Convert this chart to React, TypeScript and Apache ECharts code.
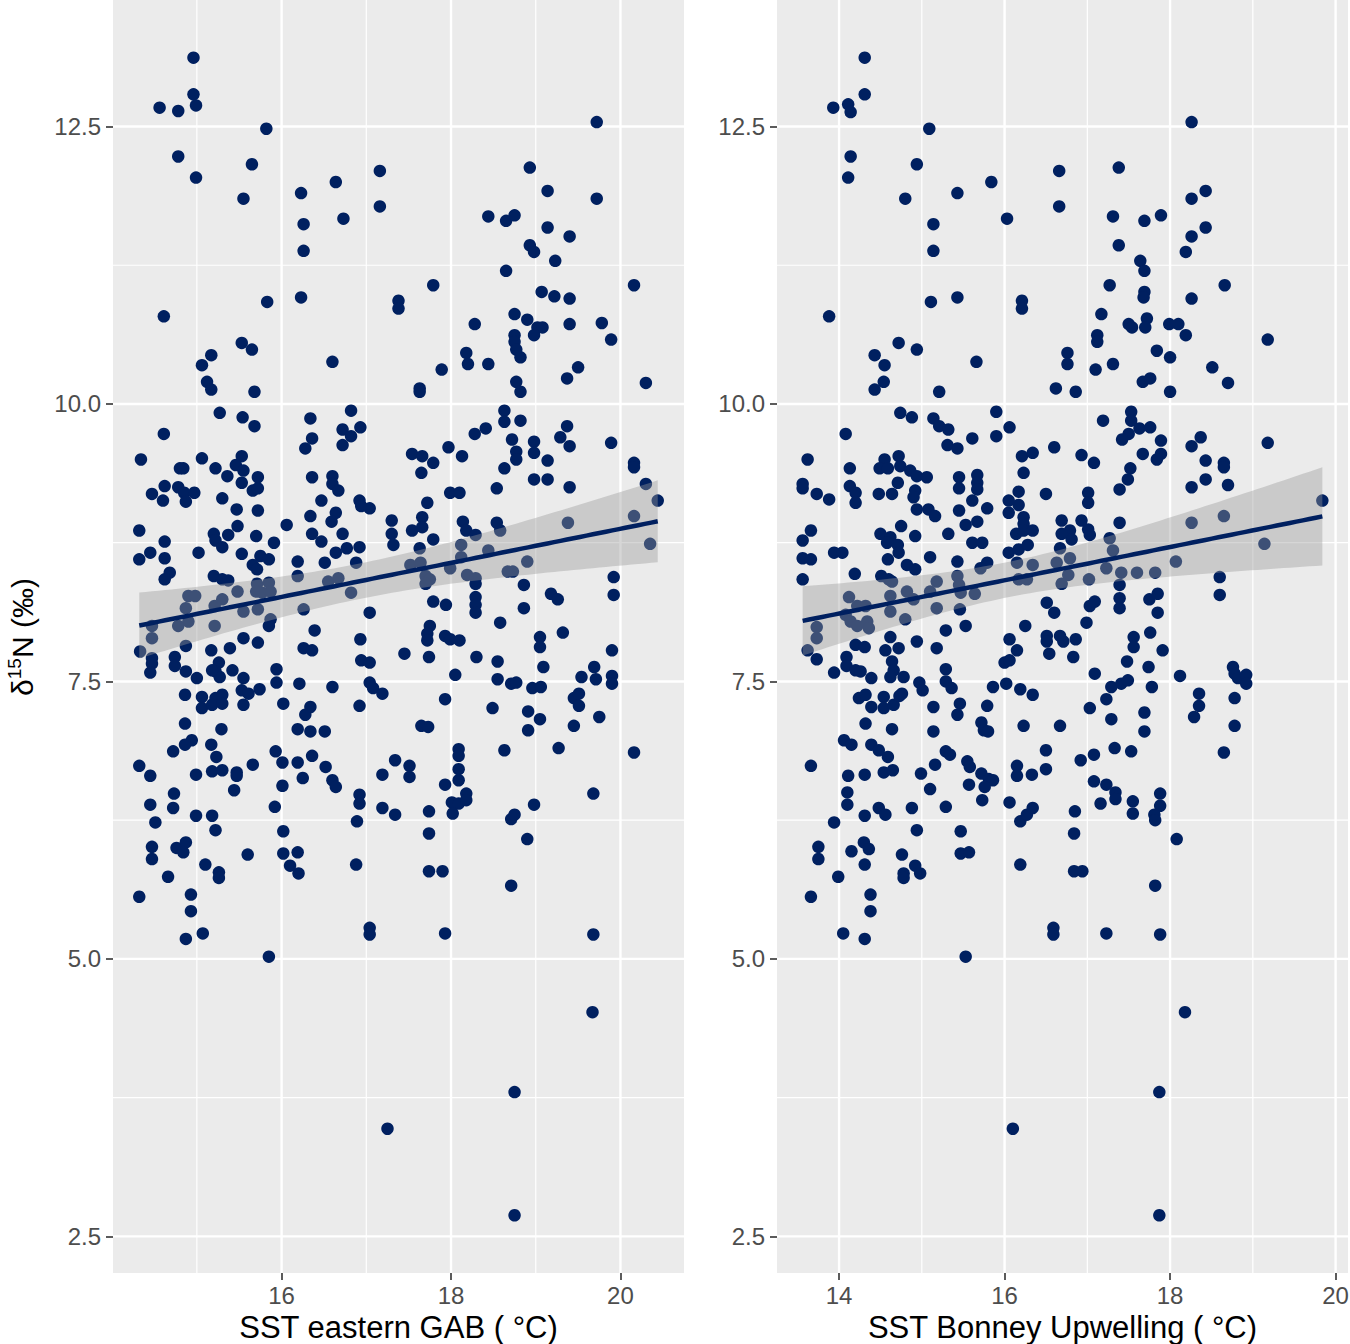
import React, { useEffect, useRef } from "react";
import * as echarts from "echarts";

// [SST eastern GAB (°C), δ15N (‰)]
const gabPoints: [number, number][] = [
  [14.96,13.12],[14.96,12.79],[14.99,12.69],[14.56,12.67],[14.78,12.64],[15.82,12.48],[14.78,12.23],[15.65,12.16],[14.99,12.04],[15.55,11.85],[16.23,11.90],[16.64,12.0],[17.16,12.10],[16.26,11.62],[16.73,11.67],[17.16,11.78],[16.26,11.38],[14.61,10.79],[15.83,10.92],[16.23,10.96],[17.38,10.93],[17.38,10.86],[15.53,10.55],[15.65,10.49],[15.17,10.44],[15.06,10.35],[15.12,10.20],[15.17,10.13],[15.68,10.11],[16.60,10.38],[15.27,9.92],[15.54,9.88],[15.68,9.80],[14.61,9.73],[16.34,9.87],[16.82,9.94],[16.72,9.77],[16.93,9.79],[16.82,9.71],[16.36,9.69],[16.28,9.60],[16.72,9.63],
  [19.72,12.54],[18.93,12.13],[19.14,11.92],[19.72,11.85],[18.44,11.69],[18.65,11.65],[18.75,11.70],[19.14,11.59],[19.40,11.51],[18.93,11.43],[18.98,11.37],[19.23,11.29],[18.65,11.20],[17.79,11.07],[20.16,11.07],[19.07,11.01],[19.22,10.97],[19.40,10.95],[18.75,10.81],[18.90,10.76],[18.28,10.72],[19.02,10.69],[19.08,10.69],[18.98,10.62],[19.40,10.72],[19.78,10.73],[19.89,10.58],[18.75,10.62],[18.75,10.56],[18.77,10.49],[18.82,10.42],[18.18,10.46],[18.20,10.36],[18.44,10.36],[17.89,10.31],[19.50,10.33],[19.37,10.23],[20.30,10.19],[17.63,10.14],[17.63,10.11],[18.77,10.20],[18.82,10.11],[18.63,9.94],[18.63,9.84],[18.82,9.85],[18.41,9.78],[18.28,9.73],[19.37,9.80],[19.29,9.70],[18.72,9.68],[18.98,9.66],[19.40,9.62],[19.89,9.65],[17.97,9.61],[18.13,9.53],
  [17.54,9.55],[17.66,9.53],[17.79,9.47],[18.77,9.57],[18.77,9.50],[18.98,9.56],[19.14,9.49],[20.16,9.47],[20.16,9.43],[18.63,9.42],[17.65,9.38],[19.40,9.25],[18.98,9.32],[19.14,9.32],[18.54,9.24],[17.99,9.20],[18.10,9.20],[17.72,9.11],[20.30,9.28],[20.44,9.13],[17.66,8.98],[17.54,8.86],[17.66,8.89],[17.79,8.78],[18.14,8.94],[18.18,8.86],[18.29,8.82],[18.54,8.93],[18.58,8.86],[19.38,8.93],[20.16,8.99],[20.35,8.74],[17.63,8.70],[18.12,8.73],[18.44,8.68],[17.52,8.55],[17.64,8.57],[18.12,8.62],[17.99,8.52],[18.90,8.58],[18.67,8.49],[18.73,8.49],[17.70,8.45],[17.75,8.42],[17.70,8.38],[18.19,8.46],[18.29,8.43],[18.29,8.38],[18.86,8.37],[19.92,8.44],[19.92,8.28],[19.18,8.29],[19.26,8.24],[17.79,8.22],[17.94,8.19],[18.29,8.26],[18.29,8.19],[18.29,8.12],[18.86,8.16],[18.58,8.03],[17.75,8.0],[17.72,7.93],[17.72,7.87],[17.93,7.91],[17.99,7.88],[18.10,7.87],[19.32,7.94],[19.05,7.90],[19.05,7.81],[17.74,7.72],[18.30,7.72],[19.90,7.78],[18.55,7.68],[19.09,7.63],[18.05,7.56],[18.55,7.52],[18.71,7.48],[18.77,7.49],[18.96,7.44],[19.06,7.45],[19.54,7.54],[19.69,7.63],[19.71,7.52],[19.90,7.55],[19.90,7.48],[19.45,7.35],[19.51,7.39],[19.51,7.28],[17.93,7.34],[18.49,7.26],[18.91,7.23],[19.05,7.16],[19.75,7.18],[17.65,7.10],[17.73,7.09],[18.91,7.06],[19.45,7.10],[18.09,6.89],[18.09,6.83],[18.63,6.88],[19.27,6.90],[20.16,6.86],[17.51,6.74],[17.51,6.64],[18.09,6.71],[18.09,6.61],[17.93,6.57],[18.01,6.41],[18.09,6.40],[18.18,6.49],[18.18,6.43],[18.02,6.31],[17.74,6.33],[17.74,6.13],[18.71,6.26],[18.75,6.30],[18.98,6.39],[18.90,6.08],[19.68,6.49],
  [14.34,9.50],[15.06,9.51],[15.53,9.53],[14.80,9.42],[14.84,9.42],[15.22,9.42],[15.46,9.45],[15.55,9.40],[15.36,9.35],[15.72,9.34],[15.53,9.29],[15.66,9.22],[15.72,9.24],[14.47,9.19],[14.62,9.26],[14.60,9.13],[14.78,9.25],[14.85,9.20],[14.87,9.12],[14.97,9.20],[15.30,9.15],[15.47,9.05],[15.72,9.04],[14.32,8.86],[14.62,8.76],[15.20,8.83],[15.37,8.82],[15.22,8.77],[15.30,8.71],[15.48,8.90],[15.70,8.81],[15.91,8.75],[16.06,8.91],[14.45,8.66],[14.32,8.60],[14.62,8.61],[15.02,8.66],[15.53,8.65],[15.75,8.63],[15.85,8.60],[15.66,8.55],[15.71,8.51],[14.68,8.48],[14.62,8.42],[15.20,8.45],[15.30,8.42],[15.37,8.41],[15.48,8.31],[15.71,8.38],[15.85,8.39],[15.70,8.31],[15.77,8.30],[15.87,8.31],[14.90,8.27],[14.98,8.27],[14.87,8.16],[15.21,8.18],[15.30,8.24],[15.55,8.13],[15.72,8.15],[14.90,8.04],[14.78,8.0],[14.47,8.0],[14.47,7.89],[15.21,8.0],[15.87,8.06],[15.85,8.0],[16.19,8.58],[16.19,8.45],[16.26,8.15],[16.36,9.34],[16.60,9.35],[16.60,9.28],[16.67,9.22],[16.47,9.13],[16.92,9.13],[16.94,9.08],[17.04,9.06],[16.34,8.99],[16.64,9.02],[16.59,8.94],[16.36,8.83],[16.47,8.76],[16.72,8.83],[16.64,8.66],[16.77,8.70],[16.92,8.71],[16.51,8.57],[16.88,8.57],[16.55,8.40],[16.67,8.43],[16.82,8.30],[17.30,8.95],[17.30,8.83],[17.32,8.73],[17.04,8.12],[16.39,7.96],[16.26,7.80],[16.36,7.78],[16.93,7.88],[16.94,7.69],[17.04,7.67],[17.45,7.75],
  [14.33,7.77],[14.47,7.71],[14.47,7.66],[14.74,7.72],[14.74,7.64],[14.45,7.58],[14.87,7.82],[14.87,7.59],[15.0,7.53],[15.17,7.78],[15.39,7.80],[15.55,7.89],[15.72,7.85],[15.26,7.67],[15.22,7.59],[15.27,7.54],[15.18,7.60],[15.42,7.60],[15.55,7.53],[15.94,7.61],[15.94,7.49],[16.21,7.48],[16.60,7.45],[17.04,7.49],[17.08,7.44],[17.19,7.39],[15.74,7.43],[15.53,7.42],[15.61,7.39],[14.86,7.38],[15.06,7.36],[15.22,7.35],[15.30,7.38],[15.06,7.26],[15.18,7.29],[15.30,7.30],[15.55,7.29],[16.02,7.30],[16.34,7.27],[16.28,7.20],[16.92,7.28],[14.86,7.12],[15.29,7.07],[16.19,7.07],[16.34,7.05],[16.51,7.05],[14.94,6.97],[14.86,6.93],[14.72,6.87],[15.17,6.93],[15.23,6.82],[15.93,6.87],[16.01,6.77],[16.19,6.77],[16.36,6.83],[16.52,6.73],[16.60,6.61],[16.64,6.55],[14.32,6.74],[14.45,6.65],[14.99,6.66],[15.18,6.69],[15.30,6.70],[15.47,6.68],[15.47,6.65],[15.66,6.75],[15.44,6.52],[16.01,6.56],[16.25,6.63],[17.34,6.79],[17.19,6.66],[14.73,6.49],[14.45,6.39],[14.72,6.36],[14.99,6.29],[15.18,6.29],[15.92,6.37],[16.92,6.48],[16.92,6.40],[17.19,6.36],[17.34,6.30],[16.89,6.24],[14.51,6.23],[15.22,6.16],[16.02,6.15],[14.47,6.01],[14.76,6.0],[14.87,6.05],[14.84,5.96],[15.60,5.94],[16.02,5.95],[16.19,5.96],
  [14.47,5.90],[15.10,5.85],[16.88,5.85],[15.26,5.78],[15.26,5.73],[16.10,5.84],[16.20,5.77],[14.66,5.74],[14.32,5.56],[14.93,5.58],[14.93,5.43],[15.07,5.23],[14.87,5.18],[15.85,5.02],[17.04,5.28],[17.04,5.22],[17.25,3.47],
  [17.74,5.79],[17.90,5.79],[18.71,5.66],[17.93,5.23],[19.68,5.22],[19.67,4.52],[18.75,3.80],[18.75,2.69],
];

// [SST Bonney Upwelling (°C), δ15N (‰)]
const bonneyPoints: [number, number][] = [
  [14.31,13.12],[14.31,12.79],[13.93,12.67],[14.11,12.70],[14.14,12.63],[15.09,12.48],[14.14,12.23],[14.94,12.16],[14.11,12.04],[14.80,11.85],[15.43,11.90],[15.84,12.0],[16.66,12.10],[15.14,11.62],[16.03,11.67],[16.66,11.78],[15.14,11.38],[13.88,10.79],[15.11,10.92],[15.43,10.96],[16.21,10.93],[16.21,10.86],[14.72,10.55],[14.94,10.49],[14.43,10.44],[14.55,10.35],[14.54,10.20],[14.43,10.13],[15.21,10.11],[15.66,10.38],[16.62,10.14],[16.76,10.46],[16.76,10.36],[14.74,9.92],[14.88,9.88],[14.08,9.73],[15.14,9.87],[15.21,9.80],[15.32,9.77],[15.31,9.63],[15.43,9.60],[15.61,9.69],[15.90,9.93],[16.06,9.79],[15.90,9.71],[16.60,9.61],
  [18.26,12.54],[17.38,12.13],[18.43,11.92],[18.26,11.85],[17.31,11.69],[17.69,11.65],[17.89,11.70],[18.43,11.59],[18.26,11.51],[17.38,11.43],[18.19,11.37],[17.64,11.29],[17.69,11.20],[17.27,11.07],[18.66,11.07],[17.69,11.01],[17.68,10.96],[18.26,10.95],[17.17,10.81],[17.50,10.72],[17.54,10.69],[17.72,10.77],[17.70,10.69],[17.99,10.72],[18.10,10.72],[18.19,10.62],[17.12,10.62],[17.12,10.56],[19.18,10.58],[17.10,10.31],[17.31,10.36],[17.84,10.48],[18.0,10.42],[18.51,10.33],[18.70,10.19],[17.67,10.20],[17.76,10.23],[16.86,10.11],[18.0,10.11],[17.53,9.93],[17.19,9.85],[17.53,9.85],[17.63,9.78],[17.76,9.79],[17.50,9.73],[17.42,9.68],[17.89,9.67],[18.26,9.62],[18.37,9.70],[19.18,9.65],[17.67,9.55],[17.89,9.55],[16.93,9.54],
  [17.08,9.47],[17.84,9.50],[18.43,9.49],[18.65,9.47],[18.65,9.43],[17.52,9.42],[17.49,9.32],[17.39,9.23],[18.43,9.32],[18.26,9.25],[18.70,9.27],[17.01,9.20],[17.01,9.11],[16.79,8.86],[16.81,8.78],[16.93,8.95],[17.01,8.87],[17.03,8.82],[17.39,8.93],[17.27,8.79],[17.31,8.68],[16.79,8.61],[16.77,8.46],[17.23,8.52],[17.41,8.48],[17.60,8.48],[17.82,8.48],[18.07,8.58],[18.26,8.93],[18.65,8.99],[19.14,8.74],[19.84,9.13],[17.02,8.42],[17.39,8.37],[17.39,8.25],[17.39,8.16],[17.03,8.18],[17.09,8.22],[17.75,8.24],[17.85,8.29],[17.85,8.12],[18.60,8.44],[18.60,8.28],[16.99,8.03],[16.71,7.86],[16.86,7.88],[17.76,7.94],[17.56,7.90],[17.56,7.81],[17.91,7.78],[16.83,7.72],[17.48,7.68],[17.74,7.63],[17.09,7.57],[17.29,7.45],[17.41,7.48],[17.49,7.51],[17.78,7.45],[18.12,7.55],[18.76,7.63],[18.78,7.57],[18.82,7.53],[18.92,7.56],[18.92,7.48],[17.23,7.34],[17.03,7.26],[17.69,7.22],[17.29,7.16],[17.69,7.05],[18.35,7.39],[18.35,7.28],[18.29,7.18],[18.78,7.35],[18.78,7.10],[17.33,6.90],[17.53,6.87],[17.08,6.84],[16.92,6.79],[18.65,6.86],[17.08,6.60],[17.23,6.57],[17.34,6.50],[17.34,6.44],[17.16,6.40],[17.55,6.42],[17.55,6.31],[17.88,6.49],[17.88,6.38],[17.81,6.30],[17.82,6.25],[16.85,6.33],[16.84,6.13],[18.08,6.08],
  [13.62,9.50],[14.13,9.42],[14.55,9.50],[14.49,9.42],[14.59,9.42],[14.72,9.53],[14.74,9.44],[14.86,9.40],[14.94,9.35],[15.06,9.34],[14.71,9.29],[14.48,9.19],[14.64,9.19],[14.92,9.22],[14.90,9.16],[13.56,9.28],[13.56,9.24],[13.73,9.19],[13.88,9.14],[14.13,9.26],[14.20,9.20],[14.20,9.11],[14.94,9.05],[15.08,9.05],[15.16,8.99],[15.45,9.34],[15.45,9.24],[15.67,9.36],[15.67,9.29],[15.67,9.23],[15.61,9.13],[15.45,9.04],[15.79,9.06],[16.21,9.53],[16.34,9.56],[16.23,9.38],[16.17,9.21],[16.05,9.13],[16.17,9.09],[16.05,9.02],[16.23,8.98],[16.23,8.92],[16.50,9.19],[15.53,8.91],[15.67,8.94],[15.32,8.83],[15.61,8.75],[15.73,8.75],[16.14,8.83],[16.23,8.86],[16.34,8.86],[16.05,8.66],[16.17,8.69],[16.28,8.73],[16.69,8.95],[16.69,8.83],[16.67,8.70],[14.75,8.90],[14.92,8.81],[14.50,8.83],[14.62,8.80],[14.58,8.75],[14.71,8.73],[14.72,8.66],[13.66,8.86],[13.56,8.77],[13.56,8.61],[13.66,8.60],[13.94,8.66],[14.04,8.66],[13.56,8.42],[14.19,8.47],[14.59,8.60],[14.82,8.55],[14.92,8.51],[15.10,8.62],[15.43,8.58],[15.79,8.57],[15.71,8.52],[14.51,8.45],[14.60,8.42],[14.64,8.40],[15.18,8.40],[15.43,8.45],[15.45,8.37],[14.82,8.31],[15.10,8.31],[14.90,8.24],[15.47,8.30],[15.64,8.29],[16.15,8.57],[16.34,8.55],[16.17,8.42],[16.27,8.42],[16.63,8.57],[16.69,8.38],[14.12,8.26],[14.22,8.18],[14.32,8.18],[14.62,8.27],[14.62,8.13],[15.18,8.16],[15.46,8.15],[14.80,8.06],[14.08,8.10],[14.14,8.04],[14.22,8.0],[14.34,8.04],[14.36,7.98],[13.73,7.99],[13.73,7.89],[13.62,7.78],[13.73,7.70],[16.51,8.21],[16.60,8.12],[16.25,8.0],[16.51,7.91],[16.51,7.86],[16.67,7.91],[16.54,7.75],[15.29,7.96],[15.53,8.0],[14.62,7.90],[14.20,7.83],[14.31,7.81],[14.56,7.78],[14.72,7.80],[14.94,7.86],[15.18,7.80],[16.06,7.88],[16.15,7.78],[16.00,7.67],[16.06,7.69],[14.09,7.72],[14.09,7.64],[14.20,7.60],[14.26,7.59],[13.94,7.58],[14.64,7.68],[14.66,7.60],[14.62,7.54],[14.78,7.54],[14.39,7.53],[15.29,7.61],[14.97,7.49],[15.01,7.42],[15.29,7.50],[15.36,7.44],[15.86,7.45],[16.02,7.48],[16.19,7.43],[16.34,7.38],[14.24,7.35],[14.32,7.38],[14.39,7.27],[14.54,7.36],[14.54,7.26],[14.66,7.29],[14.73,7.37],[14.76,7.39],[15.14,7.27],[15.46,7.30],[15.43,7.20],[15.79,7.28],[14.32,7.12],[14.64,7.07],[15.14,7.05],[15.72,7.13],[15.75,7.06],[15.80,7.05],[16.23,7.10],[16.67,7.10],[14.06,6.97],[14.15,6.93],[14.39,6.93],[14.48,6.88],[14.59,6.82],[13.66,6.74],[14.54,6.68],[14.65,6.70],[14.11,6.65],[14.31,6.66],[14.99,6.67],[15.16,6.75],[15.29,6.87],[15.34,6.84],[15.55,6.78],[15.58,6.73],[15.72,6.67],[15.81,6.62],[15.86,6.61],[15.76,6.55],[15.57,6.57],[15.10,6.53],[16.15,6.74],[16.15,6.65],[16.33,6.66],[16.50,6.88],[16.50,6.71],[14.10,6.50],[14.10,6.39],[14.48,6.36],[14.56,6.30],[14.88,6.36],[15.29,6.37],[15.73,6.43],[16.06,6.41],[16.19,6.24],[16.27,6.30],[16.34,6.36],[14.31,6.29],[13.94,6.23],[14.94,6.16],[15.47,6.15],[13.75,6.01],[14.15,5.97],[14.30,6.05],[14.36,5.99],[14.76,5.94],[15.47,5.95],[15.57,5.96],
  [13.75,5.90],[14.31,5.85],[16.19,5.85],[13.99,5.74],[14.78,5.77],[14.78,5.73],[14.92,5.84],[14.98,5.77],[13.66,5.56],[14.38,5.58],[14.38,5.43],[14.05,5.23],[14.31,5.18],[15.53,5.02],[16.59,5.28],[16.59,5.22],[16.10,3.47],
  [16.84,5.79],[16.94,5.79],[17.82,5.66],[17.23,5.23],[17.88,5.22],[18.18,4.52],[17.87,3.80],[17.87,2.69],
];

const yMajorTicks = [2.5, 5.0, 7.5, 10.0, 12.5];
const yMinorTicks = [3.75, 6.25, 8.75, 11.25];
const gabMajorTicks = [16, 18, 20];
const gabMinorTicks = [15, 17, 19];
const bonMajorTicks = [14, 16, 18, 20];
const bonMinorTicks = [15, 17, 19];
const yRange = [2.17, 13.64];
const gabRange = [14.01, 20.75];
const bonRange = [13.25, 20.15];

const FONT = "'Liberation Sans', Arial, Helvetica, sans-serif";
const NAVY = "#002060";

function linearFit(pts: [number, number][], steps = 80) {
  const n = pts.length;
  let mx = 0, my = 0;
  for (const [x, y] of pts) { mx += x; my += y; }
  mx /= n; my /= n;
  let sxx = 0, sxy = 0;
  for (const [x, y] of pts) { sxx += (x - mx) ** 2; sxy += (x - mx) * (y - my); }
  const b = sxy / sxx;
  const a = my - b * mx;
  let sse = 0;
  for (const [x, y] of pts) sse += (y - a - b * x) ** 2;
  const s = Math.sqrt(sse / (n - 2));
  const t = 1.966;
  const xs = pts.map((p) => p[0]);
  const x0 = Math.min(...xs), x1 = Math.max(...xs);
  const out: { x: number; fit: number; lo: number; hi: number }[] = [];
  for (let i = 0; i <= steps; i++) {
    const x = x0 + ((x1 - x0) * i) / steps;
    const fit = a + b * x;
    const se = s * Math.sqrt(1 / n + (x - mx) ** 2 / sxx);
    out.push({ x, fit, lo: fit - t * se, hi: fit + t * se });
  }
  return out;
}

function guideSeries(idx: number, xMajor: number[], xMinor: number[]) {
  return {
    type: "custom",
    xAxisIndex: idx,
    yAxisIndex: idx,
    silent: true,
    z: 1,
    data: [[0, 0]],
    renderItem: (params: any, api: any) => {
      const cs = params.coordSys;
      const children: any[] = [];
      const vline = (v: number, w: number) => {
        const p = api.coord([v, yRange[0]]);
        children.push({ type: "line", shape: { x1: p[0], y1: cs.y, x2: p[0], y2: cs.y + cs.height }, style: { stroke: "#ffffff", lineWidth: w } });
      };
      const hline = (v: number, w: number) => {
        const p = api.coord([xMajor[0], v]);
        children.push({ type: "line", shape: { x1: cs.x, y1: p[1], x2: cs.x + cs.width, y2: p[1] }, style: { stroke: "#ffffff", lineWidth: w } });
      };
      xMinor.forEach((v) => vline(v, 1.2));
      yMinorTicks.forEach((v) => hline(v, 1.2));
      xMajor.forEach((v) => vline(v, 2.4));
      yMajorTicks.forEach((v) => hline(v, 2.4));
      return { type: "group", children };
    },
  };
}

function bandSeries(idx: number, band: { x: number; lo: number; hi: number }[]) {
  return {
    type: "custom",
    xAxisIndex: idx,
    yAxisIndex: idx,
    silent: true,
    z: 3,
    data: [[0, 0]],
    renderItem: (_params: any, api: any) => {
      const upper = band.map((b) => api.coord([b.x, b.hi]));
      const lower = band.slice().reverse().map((b) => api.coord([b.x, b.lo]));
      return { type: "polygon", shape: { points: upper.concat(lower) }, style: { fill: "rgba(153,153,153,0.4)" } };
    },
  };
}

function xAxisCfg(idx: number, range: number[], ticks: number[], name: string) {
  return {
    type: "value",
    gridIndex: idx,
    min: range[0],
    max: range[1],
    axisLine: { show: false },
    axisTick: { show: true, length: 7, lineStyle: { color: "#333333", width: 1.6 }, customValues: ticks },
    axisLabel: { color: "#4D4D4D", fontSize: 24, fontFamily: FONT, margin: 10, customValues: ticks, formatter: (v: number) => String(v) },
    splitLine: { show: false },
    name,
    nameLocation: "middle",
    nameGap: 37,
    nameTextStyle: { fontSize: 31, color: "#000000", fontFamily: FONT },
  };
}

function yAxisCfg(idx: number) {
  return {
    type: "value",
    gridIndex: idx,
    min: yRange[0],
    max: yRange[1],
    axisLine: { show: false },
    axisTick: { show: true, length: 7, lineStyle: { color: "#333333", width: 1.6 }, customValues: yMajorTicks },
    axisLabel: { color: "#4D4D4D", fontSize: 24, fontFamily: FONT, margin: 12, customValues: yMajorTicks, formatter: (v: number) => v.toFixed(1) },
    splitLine: { show: false },
  };
}

export default function App() {
  const ref = useRef<HTMLDivElement>(null);
  useEffect(() => {
    if (!ref.current) return;
    const chart = echarts.init(ref.current, undefined, { renderer: "svg" });
    const gabFit = linearFit(gabPoints);
    const bonFit = linearFit(bonneyPoints);
    chart.setOption({
      animation: false,
      backgroundColor: "#ffffff",
      grid: [
        { left: 113, top: 0, width: 571, height: 1273, show: true, backgroundColor: "#EBEBEB", borderWidth: 0, containLabel: false, outerBoundsMode: "none" },
        { left: 777, top: 0, width: 571, height: 1273, show: true, backgroundColor: "#EBEBEB", borderWidth: 0, containLabel: false, outerBoundsMode: "none" },
      ],
      xAxis: [
        xAxisCfg(0, gabRange, gabMajorTicks, "SST eastern GAB ( °C)"),
        xAxisCfg(1, bonRange, bonMajorTicks, "SST Bonney Upwelling ( °C)"),
      ],
      yAxis: [yAxisCfg(0), yAxisCfg(1)],
      graphic: [
        {
          type: "text",
          x: 22,
          y: 637,
          rotation: Math.PI / 2,
          style: {
            text: "{a|δ}{b|15}{a|N (‰)}",
            align: "center",
            verticalAlign: "middle",
            fill: "#000000",
            rich: {
              a: { fontSize: 30, lineHeight: 35, fontFamily: FONT, fill: "#000000" },
              b: { fontSize: 19, lineHeight: 20, fontFamily: FONT, fill: "#000000", verticalAlign: "top" },
            },
          },
        },
      ],
      series: [
        guideSeries(0, gabMajorTicks, gabMinorTicks),
        guideSeries(1, bonMajorTicks, bonMinorTicks),
        { type: "scatter", xAxisIndex: 0, yAxisIndex: 0, z: 2, silent: true, symbolSize: 12.5, itemStyle: { color: NAVY, opacity: 1 }, data: gabPoints },
        { type: "scatter", xAxisIndex: 1, yAxisIndex: 1, z: 2, silent: true, symbolSize: 12.5, itemStyle: { color: NAVY, opacity: 1 }, data: bonneyPoints },
        bandSeries(0, gabFit),
        bandSeries(1, bonFit),
        { type: "line", xAxisIndex: 0, yAxisIndex: 0, z: 4, silent: true, showSymbol: false, lineStyle: { color: NAVY, width: 4.5 }, data: gabFit.map((d) => [d.x, d.fit]) },
        { type: "line", xAxisIndex: 1, yAxisIndex: 1, z: 4, silent: true, showSymbol: false, lineStyle: { color: NAVY, width: 4.5 }, data: bonFit.map((d) => [d.x, d.fit]) },
      ],
    });
    return () => chart.dispose();
  }, []);
  return <div ref={ref} style={{ position: "absolute", left: 0, top: 0, width: 1350, height: 1344 }} />;
}
